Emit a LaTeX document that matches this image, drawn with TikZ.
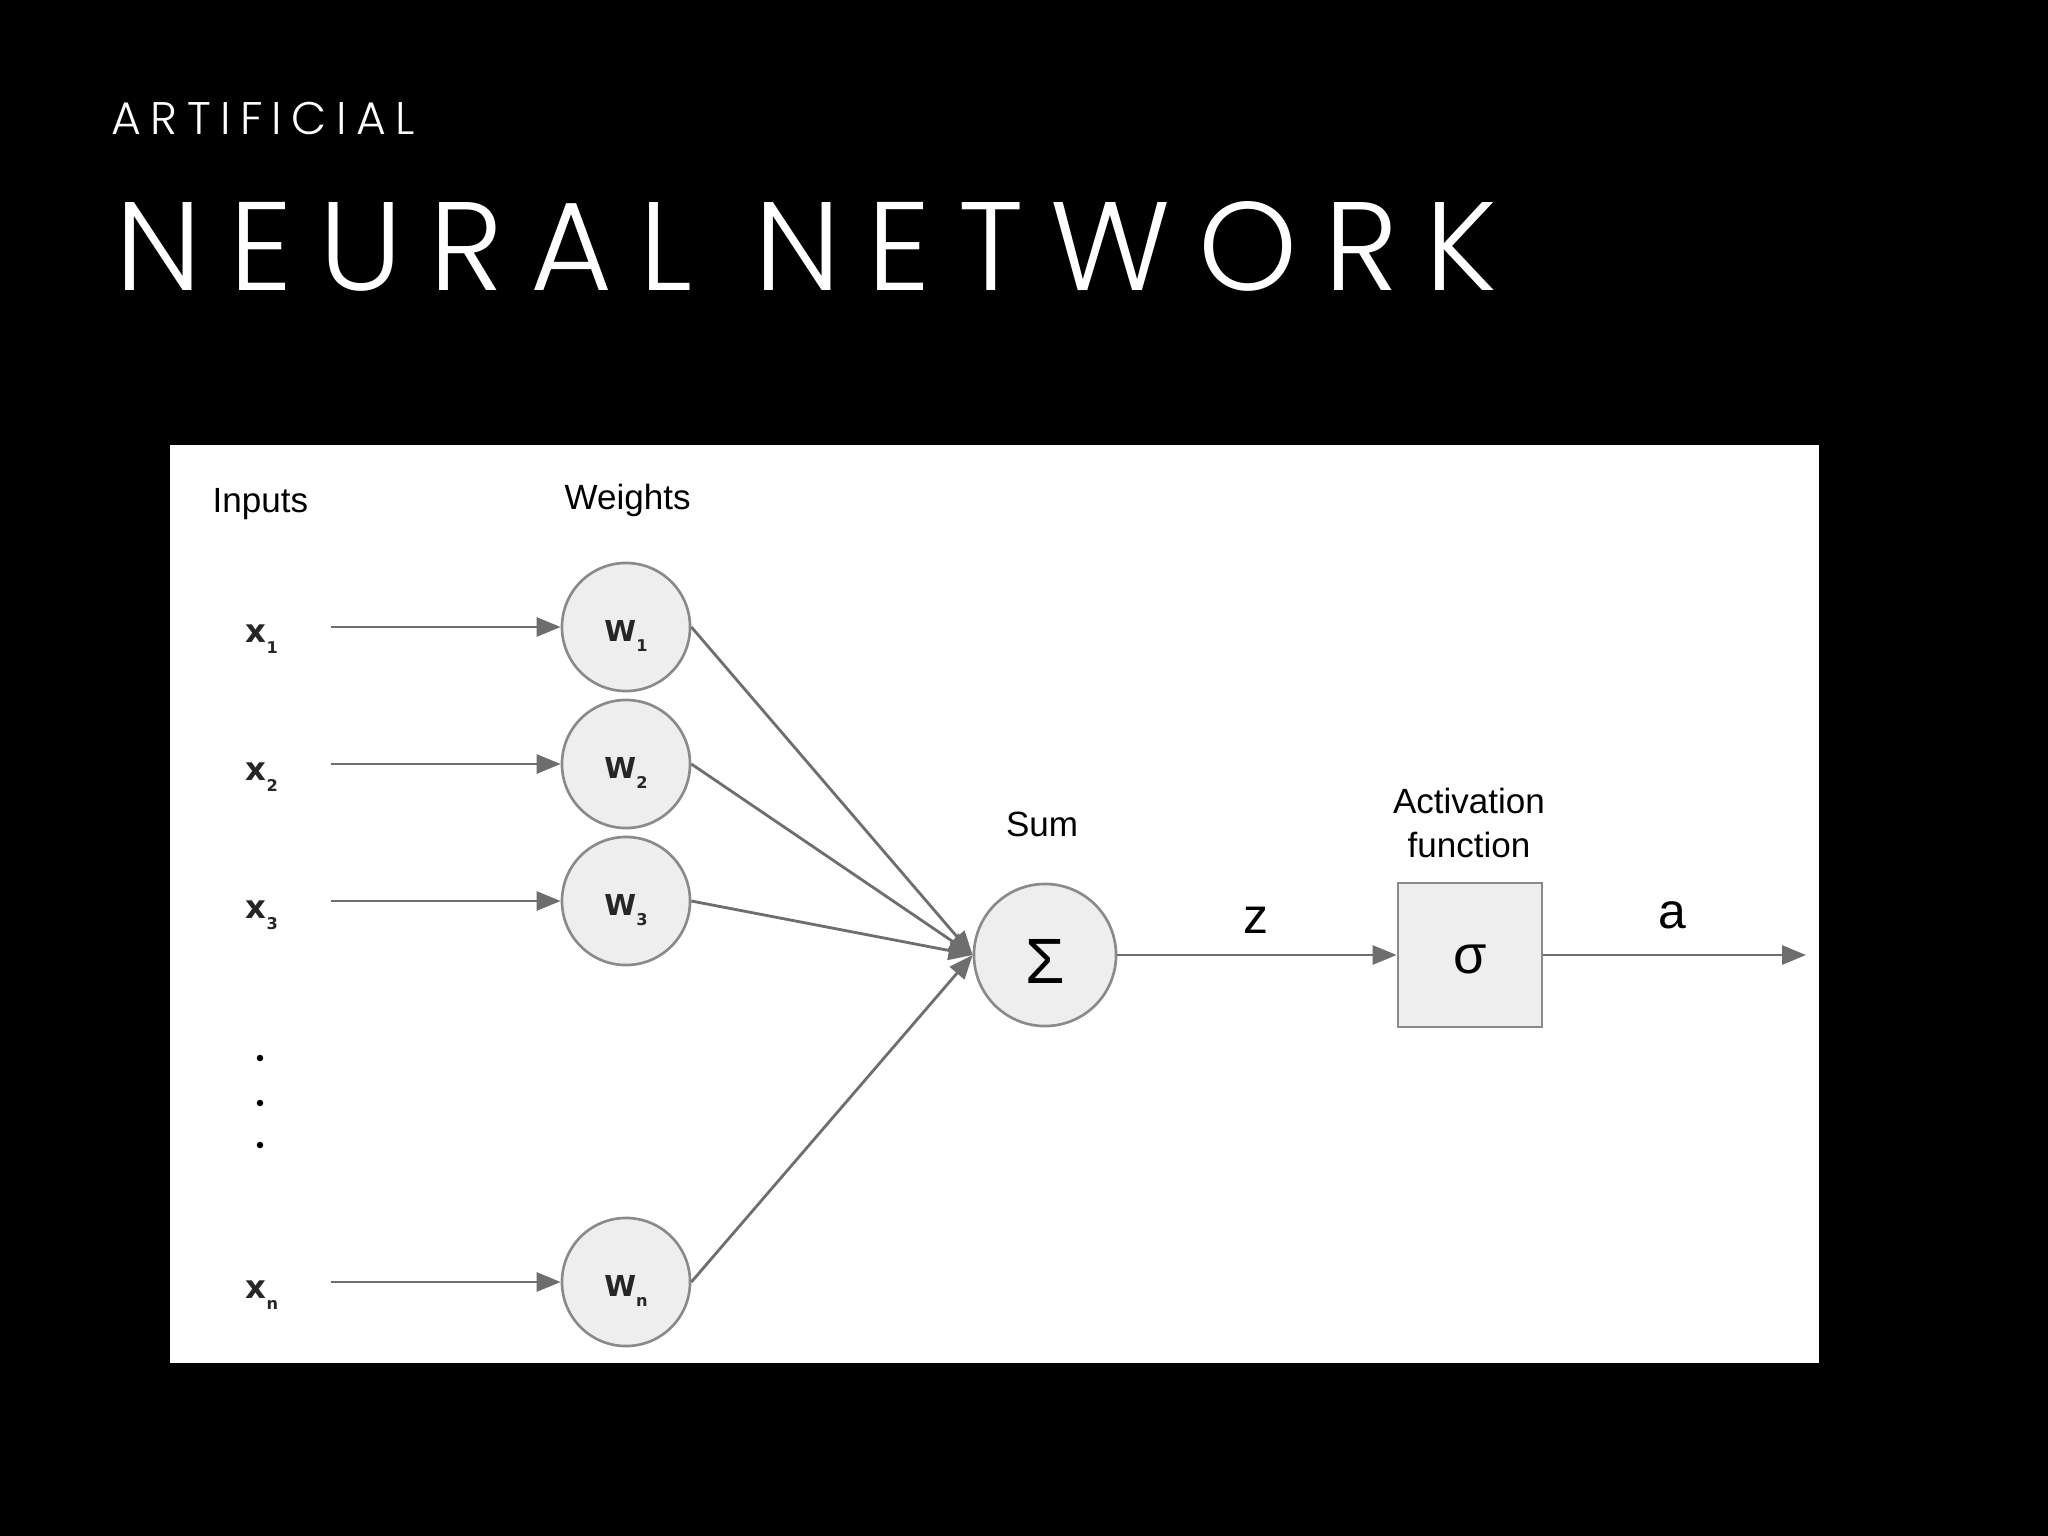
\documentclass[tikz,border=0pt]{standalone}
\usepackage{fontspec}
\setmainfont{Liberation Sans}
\newfontfamily\titlefont[LetterSpace=21.5]{Poppins Light}
\newfontfamily\subtitlefont[LetterSpace=20.5]{Poppins Light}
\newfontfamily\varfont{DejaVu Sans}
\usetikzlibrary{arrows.meta}
\definecolor{linegray}{HTML}{6E6E6E}
\definecolor{rimgray}{HTML}{8A8A8A}
\definecolor{lightfill}{HTML}{EEEEEE}
\begin{document}
\begin{tikzpicture}[x=0.01cm,y=-0.01cm,
  lbl/.style={font=\fontsize{9.96pt}{12pt}\selectfont, text=black, inner sep=0},
  var/.style={font=\varfont\bfseries\fontsize{9.2pt}{12pt}\selectfont, text=black!85, inner sep=0, anchor=base west},
  wnode/.style={circle, draw=rimgray, fill=lightfill, line width=0.75pt, minimum size=1.28cm, inner sep=0,
    text height=0.28cm, text depth=0pt, text=black!85, font=\varfont\bfseries\fontsize{8.2pt}{9pt}\selectfont},
  conn/.style={draw=linegray, line width=0.8pt, -{Triangle[length=0.24cm,width=0.19cm]}},
  dotn/.style={circle, fill=black, minimum size=0.065cm, inner sep=0},
]
\useasboundingbox (0,0) rectangle (2048,1536);
\fill[black] (0,0) rectangle (2048,1536);
% titles
\node[anchor=base west, inner sep=0, text=white, font=\subtitlefont\fontsize{13pt}{15pt}\selectfont] (sub) at (111,134) {ARTIFICIAL};
\node[anchor=base west, inner sep=0, text=white, font=\titlefont\fontsize{35.8pt}{40pt}\selectfont] (title) at (115,290) {NEURAL NETWORK};
% panel
\fill[white] (170,445) rectangle (1819,1363);
% headings
\node[lbl, anchor=base west] (hin) at (212,512) {Inputs};
\node[lbl, anchor=base west] (hw) at (564,509) {Weights};
\node[lbl, anchor=base] (hsum) at (1042,836) {Sum};
\node[lbl, anchor=base] (hact1) at (1469,813) {Activation};
\node[lbl, anchor=base] (hact2) at (1469,857) {function};
% inputs
\node[var] (x1) at (245,642) {x\raisebox{-0.11cm}{\fontsize{4.6pt}{5pt}\selectfont 1}};
\node[var] (x2) at (245,780) {x\raisebox{-0.11cm}{\fontsize{4.6pt}{5pt}\selectfont 2}};
\node[var] (x3) at (245,918) {x\raisebox{-0.11cm}{\fontsize{4.6pt}{5pt}\selectfont 3}};
\node[var] (xn) at (245,1298) {x\raisebox{-0.11cm}{\fontsize{4.6pt}{5pt}\selectfont n}};
\node[dotn] (d1) at (260,1058) {};
\node[dotn] (d2) at (260,1103) {};
\node[dotn] (d3) at (260,1145) {};
% weights
\node[wnode] (w1) at (626,627) {W\raisebox{-0.1cm}{\fontsize{4.6pt}{5pt}\selectfont 1}};
\node[wnode] (w2) at (626,764) {W\raisebox{-0.1cm}{\fontsize{4.6pt}{5pt}\selectfont 2}};
\node[wnode] (w3) at (626,901) {W\raisebox{-0.1cm}{\fontsize{4.6pt}{5pt}\selectfont 3}};
\node[wnode] (wn) at (626,1282) {W\raisebox{-0.1cm}{\fontsize{4.6pt}{5pt}\selectfont n}};
% sum and activation
\node[circle, draw=rimgray, fill=lightfill, line width=0.75pt, minimum size=1.42cm, inner sep=0,
  text height=0.56cm, text depth=0pt, font=\fontsize{18.2pt}{20pt}\selectfont] (sum) at (1045,955) {Σ};
\node[rectangle, draw=rimgray, fill=lightfill, line width=0.75pt, minimum size=1.44cm, inner sep=0,
  text height=0.36cm, text depth=0pt, font=\fontsize{15.4pt}{17pt}\selectfont] (act) at (1470,955) {σ};
\node[lbl, font=\fontsize{14.2pt}{16pt}\selectfont] (z) at (1256,920) {z};
\node[lbl, font=\fontsize{14.2pt}{16pt}\selectfont] (a) at (1672,915) {a};
% connectors
\coordinate (s1) at (331,627);
\coordinate (s2) at (331,764);
\coordinate (s3) at (331,901);
\coordinate (sn) at (331,1282);
\coordinate (out) at (1806,955);
\draw[conn] (s1) -- (w1.west);
\draw[conn] (s2) -- (w2.west);
\draw[conn] (s3) -- (w3.west);
\draw[conn] (sn) -- (wn.west);
\draw[conn] (w1.east) -- (sum.west);
\draw[conn] (w2.east) -- (sum.west);
\draw[conn] (w3.east) -- (sum.west);
\draw[conn] (wn.east) -- (sum.west);
\draw[conn] (sum.east) -- (act.west);
\draw[conn] (act.east) -- (out);
\end{tikzpicture}
\end{document}
